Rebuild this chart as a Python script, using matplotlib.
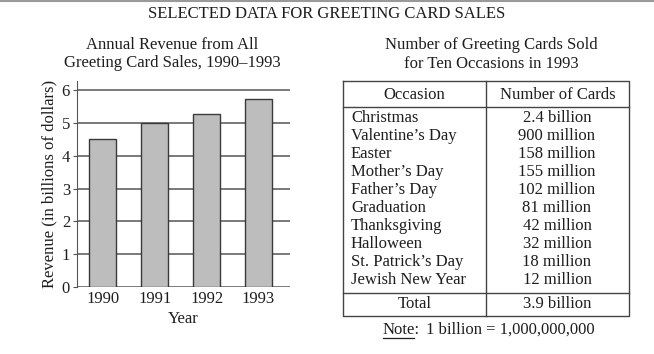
import matplotlib.pyplot as plt
import numpy as np

plt.rcParams['font.family'] = ['Liberation Serif', 'DejaVu Serif']

years = ['1990', '1991', '1992', '1993']
revenue = [4.5, 5.0, 5.27, 5.73]
yticks = [0, 1, 2, 3, 4, 5, 6]

occasions = ['Christmas', 'Valentine\u2019s Day', 'Easter', 'Mother\u2019s Day', 'Father\u2019s Day',
             'Graduation', 'Thanksgiving', 'Halloween', 'St. Patrick\u2019s Day', 'Jewish New Year']
cards = ['2.4 billion', '900 million', '158 million', '155 million', '102 million',
         '81 million', '42 million', '32 million', '18 million', '12 million']
total = '3.9 billion'

W, H = 654, 354
fs = 12
tc = '#1e1e1e'
fig = plt.figure(figsize=(W / 100, H / 100), dpi=100)
fig.patch.set_facecolor('white')

def fx(px):
    return px / W

def fy(py):
    return 1 - py / H

# bar chart
ax = fig.add_axes([fx(77), fy(287), fx(290) - fx(77), fy(81) - fy(287)])
x = np.arange(len(years))
ax.set_xlim(-0.5, 3.61)
ax.set_ylim(0, 6 * 206 / 197)
for v in yticks:
    ax.axhline(v, color='#555555', lw=1.1, zorder=1)
ax.bar(x, revenue, width=0.52, color='#bdbdbd', edgecolor='#3a3a3a', lw=1.0, zorder=2)
for s in ['top', 'right', 'bottom']:
    ax.spines[s].set_visible(False)
ax.spines['left'].set_color('#555555')
ax.set_yticks(yticks)
ax.set_xticks(x)
ax.set_xticklabels(years)
ax.tick_params(axis='y', length=3, color='#555555', labelsize=fs, labelcolor=tc, pad=2)
ax.tick_params(axis='x', length=0, labelsize=fs, labelcolor=tc, pad=3)
ax.set_xlabel('Year', fontsize=fs, color=tc, labelpad=3)
ax.set_ylabel('Revenue (in billions of dollars)', fontsize=fs, color=tc, labelpad=3)

# overlay for text and table
ov = fig.add_axes([0, 0, 1, 1])
ov.set_xlim(0, W)
ov.set_ylim(H, 0)
ov.axis('off')
ov.patch.set_alpha(0)

ov.plot([0, W], [1, 1], color='#999999', lw=1.5)
ov.text(327, 14, 'SELECTED DATA FOR GREETING CARD SALES', ha='center', va='center', fontsize=fs, color=tc)
ov.text(172, 45, 'Annual Revenue from All', ha='center', va='center', fontsize=fs, color=tc)
ov.text(172, 63, 'Greeting Card Sales, 1990\u20131993', ha='center', va='center', fontsize=fs, color=tc)
ov.text(491, 45, 'Number of Greeting Cards Sold', ha='center', va='center', fontsize=fs, color=tc)
ov.text(491, 64, 'for Ten Occasions in 1993', ha='center', va='center', fontsize=fs, color=tc)

L, M, R = 343, 486, 629
T, HB, BB, TB = 81, 107, 293, 316
lc = '#444444'
ov.plot([L, R, R, L, L], [T, T, TB, TB, T], color=lc, lw=1.0)
ov.plot([M, M], [T, TB], color=lc, lw=1.0)
ov.plot([L, R], [HB, HB], color=lc, lw=1.0)
ov.plot([L, R], [BB, BB], color=lc, lw=1.0)

ov.text((L + M) / 2, 95, 'Occasion', ha='center', va='center', fontsize=fs, color=tc)
ov.text((M + R) / 2, 95, 'Number of Cards', ha='center', va='center', fontsize=fs, color=tc)
for i, (occ, n) in enumerate(zip(occasions, cards)):
    yy = 118 + i * 18
    ov.text(351, yy, occ, ha='left', va='center', fontsize=fs, color=tc)
    ov.text(557, yy, n, ha='center', va='center', fontsize=fs, color=tc)
ov.text((L + M) / 2, 304, 'Total', ha='center', va='center', fontsize=fs, color=tc)
ov.text(557, 304, total, ha='center', va='center', fontsize=fs, color=tc)

ov.text(383, 330, 'Note:', ha='left', va='center', fontsize=fs, color=tc)
ov.text(426, 330, '1 billion = 1,000,000,000', ha='left', va='center', fontsize=fs, color=tc)
ov.plot([383, 414], [338, 338], color=tc, lw=0.9)

fig.savefig('out.png', dpi=100, facecolor='white')
